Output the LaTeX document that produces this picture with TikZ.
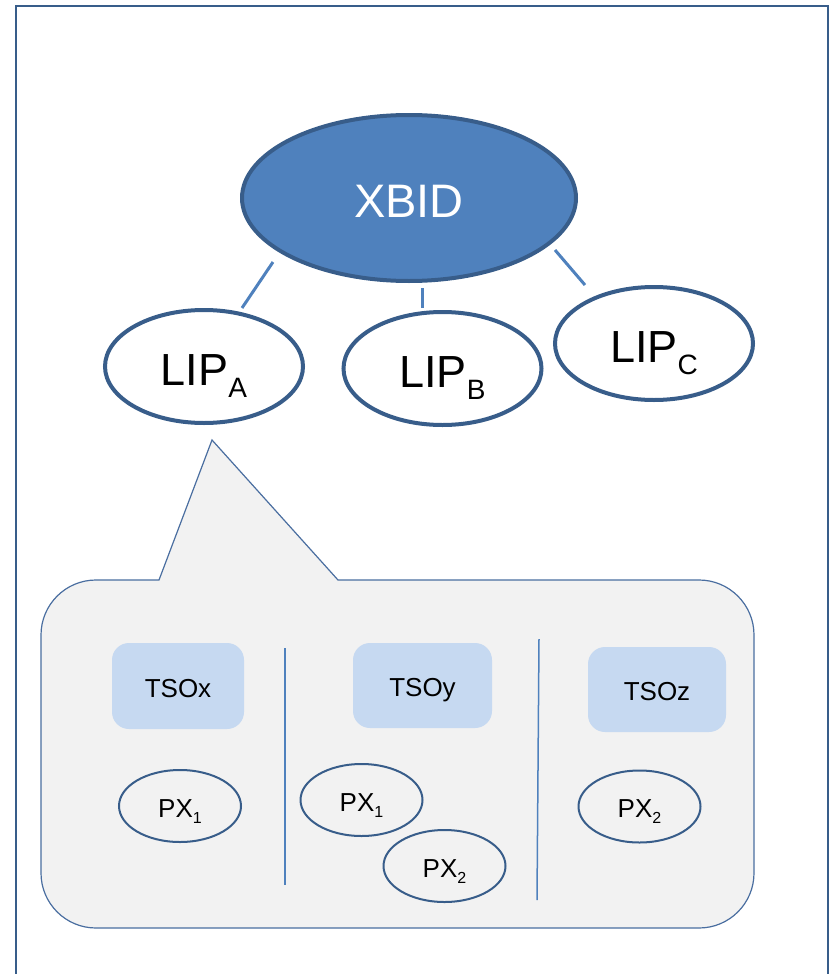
\documentclass[tikz,border=0pt]{standalone}
\usepackage{fontspec}
\setmainfont{Liberation Sans}
\usetikzlibrary{shapes.geometric}
\definecolor{bord}{RGB}{56,93,138}
\definecolor{midblue}{RGB}{79,129,189}
\definecolor{lightblue}{RGB}{198,217,241}
\definecolor{bggrey}{RGB}{242,242,242}
\definecolor{bubbord}{RGB}{74,110,160}
\newcommand{\lowsub}[1]{\raisebox{-12pt}{\fontsize{28}{30}\selectfont #1}}
\newcommand{\pxsub}[1]{\raisebox{-6pt}{\fontsize{16}{18}\selectfont #1}}
\tikzset{
  bigell/.style={ellipse, draw=bord, line width=4pt, inner sep=0pt},
  xbstyle/.style={bigell, fill=midblue, text=white, minimum width=334pt, minimum height=166pt,
    font=\fontsize{47}{52}\selectfont, text height=40pt, text depth=2pt},
  lipstyle/.style={bigell, fill=white, minimum width=198pt, minimum height=113pt,
    font=\fontsize{45}{50}\selectfont, text height=40pt, text depth=3pt},
  conn/.style={draw=midblue, line width=3pt},
  tsostyle/.style={rectangle, rounded corners=17pt, fill=lightblue, inner sep=0pt,
    font=\fontsize{26}{30}\selectfont, text height=22pt, text depth=0pt},
  pxstyle/.style={ellipse, draw=bord, line width=2pt, inner sep=0pt, minimum width=122pt,
    minimum height=72pt, font=\fontsize{26}{30}\selectfont, text height=22pt, text depth=0pt},
  divider/.style={draw=midblue, line width=1.5pt},
  bubble/.style={draw=bubbord, line width=1.2pt, fill=bggrey},
  frame/.style={draw=bord, line width=2pt}
}
\begin{document}
\begin{tikzpicture}[x=1pt, y=-1pt]
\useasboundingbox (0,0) rectangle (830,974);
% outer frame
\draw[frame] (16,974) -- (16,6.5) -- (828,6.5) -- (828,974);
% callout bubble
\draw[bubble] (159,580) -- (212,440) -- (338,580) -- (699,580)
  arc[start angle=270, end angle=360, radius=55] -- (754,873)
  arc[start angle=0, end angle=90, radius=55] -- (96,928)
  arc[start angle=90, end angle=180, radius=55] -- (41,635)
  arc[start angle=180, end angle=270, radius=55] -- cycle;
% top nodes
\node[xbstyle] (xbid) at (409,198) {XBID};
\node[lipstyle] (lipA) at (204,366.5) {LIP\lowsub{A}};
\node[lipstyle] (lipB) at (442.5,368.5) {LIP\lowsub{B}};
\node[lipstyle] (lipC) at (654,343.5) {LIP\lowsub{C}};
% connectors (short strokes between the ellipses)
\coordinate (cA1) at (273,262); \coordinate (cA2) at (242,308);
\coordinate (cB1) at (422,288); \coordinate (cB2) at (422,308);
\coordinate (cC1) at (555,250); \coordinate (cC2) at (585,285);
\draw[conn] (cA1) -- (cA2);
\draw[conn] (cB1) -- (cB2);
\draw[conn] (cC1) -- (cC2);
% TSO boxes
\node[tsostyle, minimum width=132pt, minimum height=86pt] (tsox) at (178,686) {TSOx};
\node[tsostyle, minimum width=139pt, minimum height=85pt] (tsoy) at (422.5,685.5) {TSOy};
\node[tsostyle, minimum width=138pt, minimum height=85pt] (tsoz) at (657,689.5) {TSOz};
% dividers
\draw[divider] (285,648) -- (285,885);
\draw[divider] (539,639) -- (537,900);
% PX ellipses
\node[pxstyle] (pxa) at (180,806) {PX\pxsub{1}};
\node[pxstyle] (pxb) at (361.5,800) {PX\pxsub{1}};
\node[pxstyle] (pxc) at (444.5,866) {PX\pxsub{2}};
\node[pxstyle] (pxd) at (639.5,806.5) {PX\pxsub{2}};
\end{tikzpicture}
\end{document}
